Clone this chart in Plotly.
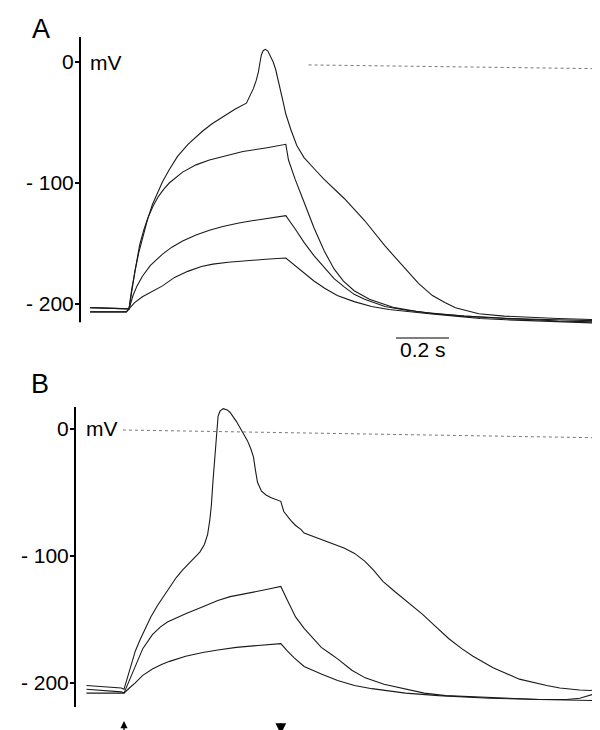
import plotly.graph_objects as go

# ---------------- Panel A data (time in s, membrane potential in mV) ----------------
a1_t = [0.005, 0.10, 0.14, 0.15, 0.16, 0.173, 0.186, 0.199, 0.218, 0.237, 0.256, 0.275, 0.30,
        0.331, 0.37, 0.425, 0.46, 0.501, 0.545, 0.588, 0.605, 0.614, 0.625, 0.633, 0.639,
        0.644, 0.651, 0.659, 0.668, 0.678, 0.688, 0.697, 0.706, 0.716, 0.725, 0.735, 0.754,
        0.776, 0.803, 0.84, 0.878, 0.954, 1.029, 1.105, 1.18, 1.23, 1.282, 1.33, 1.368,
        1.42, 1.455, 1.55, 1.63, 1.75, 1.927]
a1_v = [-203, -203.5, -203.5, -204, -190, -172, -158, -146, -131, -118, -108, -99, -89,
        -78, -68, -57, -51, -45, -39, -34, -27, -22, -15, -8, 0,
        6, 9.5, 10.5, 9, 5, 0, -6, -14, -24, -33, -43, -56,
        -69, -79, -88, -97, -113, -131, -152, -171, -183, -193, -199, -203,
        -206, -208, -210, -211, -212, -213]

a2_t = [0.005, 0.10, 0.14, 0.15, 0.16, 0.17, 0.18, 0.19, 0.205, 0.22, 0.24, 0.26, 0.28, 0.30,
        0.35, 0.40, 0.45, 0.50, 0.575, 0.66, 0.735, 0.745, 0.77, 0.80, 0.84, 0.878, 0.915,
        0.95, 0.99, 1.047, 1.10, 1.14, 1.22, 1.29, 1.40, 1.557, 1.75, 1.927]
a2_v = [-203, -203.5, -203.5, -204, -188, -175, -162, -151, -139, -129, -119, -111, -105, -100,
        -91, -85, -81, -78, -74, -71, -68, -81, -97, -114, -137, -156, -171,
        -181, -189, -196, -200, -203, -206, -208, -210, -212, -214, -215]

a3_t = [0.005, 0.10, 0.14, 0.15, 0.165, 0.18, 0.20, 0.23, 0.274, 0.31, 0.35, 0.40, 0.45, 0.50,
        0.56, 0.614, 0.68, 0.735, 0.77, 0.803, 0.84, 0.878, 0.915, 0.954, 0.99, 1.029, 1.07,
        1.105, 1.18, 1.255, 1.40, 1.557, 1.75, 1.927]
a3_v = [-206.5, -206.5, -206.5, -204, -193, -185, -177, -168, -159, -153, -148, -143, -139, -136,
        -133, -131, -129, -127, -138, -149, -160, -170, -179, -186, -192, -196, -199,
        -202, -205, -207, -210, -212, -213, -214]

a4_t = [0.005, 0.10, 0.14, 0.15, 0.17, 0.20, 0.24, 0.275, 0.32, 0.369, 0.42, 0.463, 0.52, 0.588,
        0.66, 0.735, 0.79, 0.84, 0.88, 0.927, 0.99, 1.055, 1.12, 1.18, 1.27, 1.368, 1.46,
        1.557, 1.75, 1.927]
a4_v = [-206.5, -206.5, -206.5, -204, -199, -194, -189, -185, -178, -173, -169, -167, -165.5, -164,
        -163, -162, -172, -181, -187, -193, -198, -202, -204.5, -206, -208, -210, -212,
        -213, -214.5, -216]

a_ref_t = [0.82, 1.93]
a_ref_v = [-2.4, -5.6]

# ---------------- Panel B data ----------------
b1_t = [0.01, 0.10, 0.14, 0.15, 0.17, 0.192, 0.21, 0.229, 0.25, 0.275, 0.30, 0.32, 0.345, 0.369,
        0.40, 0.433, 0.45, 0.462, 0.47, 0.476, 0.482, 0.49, 0.497, 0.501, 0.508, 0.52, 0.535,
        0.546, 0.569, 0.595, 0.61, 0.622, 0.633, 0.64, 0.648, 0.663, 0.68, 0.697, 0.72, 0.735,
        0.746, 0.76, 0.772, 0.79, 0.81, 0.822, 0.86, 0.897, 0.94, 0.973, 1.01, 1.048, 1.08,
        1.116, 1.16, 1.2, 1.264, 1.31, 1.361, 1.41, 1.452, 1.527, 1.58, 1.625, 1.727, 1.776,
        1.85, 1.89, 1.91, 1.924]
b1_v = [-202, -203, -204, -205, -190, -175, -166, -157, -148, -139, -131, -124, -117, -111,
        -104, -97, -91, -83, -72, -60, -41, -22, 0, 10, 14, 16, 15,
        13, 6, -3, -9, -15, -22, -32, -42, -49, -52, -54, -56, -57,
        -65, -69, -72, -76, -79, -82, -85, -88, -91, -94, -98, -104, -111,
        -120, -128, -135, -146, -155, -165, -173, -179, -188, -193, -197, -202, -204,
        -205.5, -206, -205, -203]

b2_t = [0.01, 0.10, 0.14, 0.15, 0.17, 0.192, 0.22, 0.256, 0.285, 0.312, 0.35, 0.38, 0.444, 0.50,
        0.546, 0.60, 0.644, 0.69, 0.735, 0.76, 0.79, 0.822, 0.855, 0.886, 0.92, 0.947, 1.0,
        1.05, 1.12, 1.2, 1.27, 1.35, 1.45, 1.577, 1.7, 1.8, 1.85, 1.9, 1.924]
b2_v = [-205, -206, -207, -208, -198, -186, -173, -162, -156, -152, -148, -145.5, -140, -135,
        -132, -129.5, -128, -126, -124, -135, -148, -157, -165, -172, -177, -181, -190,
        -196, -201, -205, -208, -210, -211, -212, -213, -213, -212, -209, -208]

b3_t = [0.01, 0.10, 0.14, 0.15, 0.17, 0.192, 0.22, 0.256, 0.29, 0.32, 0.38, 0.444, 0.50, 0.569,
        0.65, 0.735, 0.76, 0.784, 0.822, 0.886, 0.947, 1.01, 1.075, 1.2, 1.324, 1.513, 1.7,
        1.924]
b3_v = [-208, -208, -208, -208, -204, -200, -194, -189, -185.5, -183, -179, -176, -174, -172,
        -170.5, -169, -175, -180, -187, -193, -198, -202, -204.5, -208, -210, -212, -213,
        -214]

b_ref_t = [0.146, 1.935]
b_ref_v = [-0.8, -7.0]

# stimulus on / off times (arrows under panel B)
stim_on, stim_off = 0.15, 0.735

tick_vals = [-200, -100, 0]
tick_text = ["- 200", "- 100", "0"]

TRACE = dict(color="#1a1a1a", width=1.1)
REF = dict(color="#777777", width=1, dash="dot")
FONT = "Liberation Sans, Arial, sans-serif"

fig = go.Figure()
for t, v in [(a1_t, a1_v), (a2_t, a2_v), (a3_t, a3_v), (a4_t, a4_v)]:
    fig.add_trace(go.Scatter(x=t, y=v, mode="lines", line=TRACE, xaxis="x", yaxis="y",
                             showlegend=False, hoverinfo="skip"))
fig.add_trace(go.Scatter(x=a_ref_t, y=a_ref_v, mode="lines", line=REF, xaxis="x", yaxis="y",
                         showlegend=False, hoverinfo="skip"))
for t, v in [(b1_t, b1_v), (b2_t, b2_v), (b3_t, b3_v)]:
    fig.add_trace(go.Scatter(x=t, y=v, mode="lines", line=TRACE, xaxis="x2", yaxis="y2",
                             showlegend=False, hoverinfo="skip"))
fig.add_trace(go.Scatter(x=b_ref_t, y=b_ref_v, mode="lines", line=REF, xaxis="x2", yaxis="y2",
                         showlegend=False, hoverinfo="skip"))

W, H = 600, 730
xr = [-0.0328, 1.937]
yaxis_common = dict(showline=False, ticks="outside", ticklen=4,
                    tickwidth=1.5, tickcolor="black", showgrid=False, zeroline=False,
                    tickvals=tick_vals, ticktext=tick_text, ticklabelstandoff=-3,
                    tickfont=dict(family=FONT, size=21, color="black"))
xaxis_common = dict(visible=False, range=xr, showgrid=False, zeroline=False)

A_RANGE = [-232.2, 20.66]
B_RANGE = [-227.6, 17.3]
fig.update_layout(
    width=W, height=H, autosize=False,
    margin=dict(l=0, r=0, t=0, b=0),
    paper_bgcolor="white", plot_bgcolor="white",
    xaxis=dict(domain=[72 / W, 1.0], anchor="y", **xaxis_common),
    yaxis=dict(domain=[1 - 335 / H, 1 - 29 / H], anchor="x", range=A_RANGE, **yaxis_common),
    xaxis2=dict(domain=[67 / W, 595 / W], anchor="y2", **xaxis_common),
    yaxis2=dict(domain=[1 - 710 / H, 1 - 399 / H], anchor="x2", range=B_RANGE, **yaxis_common),
)

# vertical axis lines (shorter than the plotting areas)
fig.add_shape(type="line", xref="x domain", yref="y", x0=0, x1=0, y0=-215, y1=A_RANGE[1],
              line=dict(color="black", width=2))
fig.add_shape(type="line", xref="x2 domain", yref="y2", x0=0, x1=0, y0=-219, y1=B_RANGE[1],
              line=dict(color="black", width=2))

font_lbl = dict(family=FONT, size=21, color="black")
ann = [
    dict(text="A", x=33 / W, y=1 - 21 / H, xref="paper", yref="paper", showarrow=False,
         xanchor="center", yanchor="middle", font=dict(family=FONT, size=27, color="black")),
    dict(text="B", x=32 / W, y=1 - 376 / H, xref="paper", yref="paper", showarrow=False,
         xanchor="center", yanchor="middle", font=dict(family=FONT, size=27, color="black")),
    dict(text="mV", x=80 / W, y=0, xref="paper", yref="y", xanchor="left", yanchor="middle",
         showarrow=False, font=font_lbl),
    dict(text="mV", x=76 / W, y=0, xref="paper", yref="y2", xanchor="left", yanchor="middle",
         showarrow=False, font=font_lbl),
    dict(text="0.2 s", x=415 / W, y=1 - 341 / H, xref="paper", yref="paper", showarrow=False,
         xanchor="center", yanchor="middle", font=dict(family=FONT, size=21, color="black")),
    # stimulus markers
    dict(text="", x=stim_on, y=1 - 713 / H, xref="x2", yref="paper", showarrow=True,
         ax=0, ay=16, arrowhead=2, arrowsize=1.1, arrowwidth=1.3, arrowcolor="black"),
    dict(text="", x=stim_off, y=1 - 726 / H, xref="x2", yref="paper", showarrow=True,
         ax=0, ay=-12, arrowhead=2, arrowsize=0.9, arrowwidth=2.4, arrowcolor="black"),
]
fig.update_layout(annotations=ann)
fig.add_shape(type="line", xref="paper", yref="paper", x0=388 / W, x1=441 / W,
              y0=1 - 330 / H, y1=1 - 330 / H, line=dict(color="black", width=1.2))

fig.write_html("out.html")
